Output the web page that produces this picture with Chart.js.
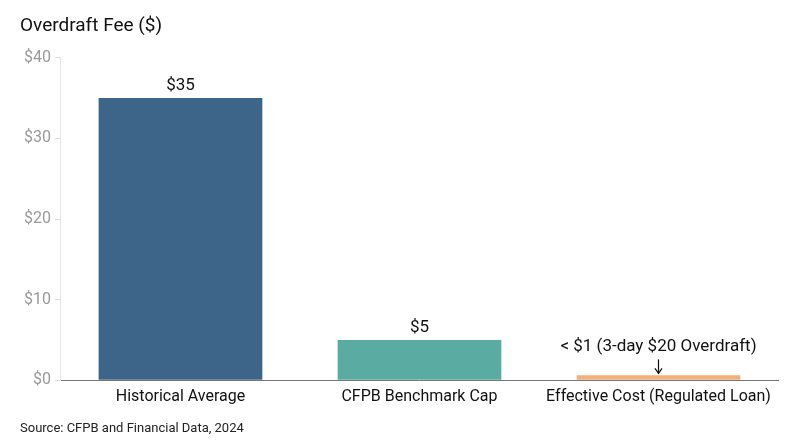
<!DOCTYPE html>
<html>
<head>
<meta charset="utf-8">
<script src="https://cdn.jsdelivr.net/npm/chart.js@4"></script>
<style>
  html, body { margin: 0; padding: 0; background: #fff; }
  #wrap { width: 800px; height: 447px; }
</style>
</head>
<body>
<div id="wrap"><canvas id="chart"></canvas></div>
<script>
// data
const categories = ['Historical Average', 'CFPB Benchmark Cap', 'Effective Cost (Regulated Loan)'];
const fees = [35, 5, 0.6];
const barLabels = ['$35', '$5', '< $1 (3-day $20 Overdraft)'];
const barColors = ['#3d6489', '#5aaba1', '#f2b07c'];
const yTicks = [0, 10, 20, 30, 40];

const FONT = "Roboto, 'Liberation Sans', sans-serif";

// labels above the bars, plus the little arrow on the last one
const barLabelPlugin = {
    id: 'barLabels',
    afterDatasetsDraw(chart) {
        const { ctx } = chart;
        const meta = chart.getDatasetMeta(0);
        ctx.save();
        ctx.fillStyle = '#111';
        ctx.textAlign = 'center';
        ctx.textBaseline = 'bottom';
        ctx.font = '17px ' + FONT;
        meta.data.forEach((bar, i) => {
            if (i === 2) {
                // text sits higher, arrow points down to the bar
                const textY = bar.y - 20;
                ctx.fillText(barLabels[i], bar.x, textY);
                ctx.strokeStyle = '#111';
                ctx.lineWidth = 1.2;
                ctx.beginPath();
                ctx.moveTo(bar.x, textY + 4);
                ctx.lineTo(bar.x, bar.y - 2);
                ctx.stroke();
                ctx.beginPath();
                ctx.moveTo(bar.x - 3.5, bar.y - 7);
                ctx.lineTo(bar.x, bar.y - 2);
                ctx.lineTo(bar.x + 3.5, bar.y - 7);
                ctx.stroke();
            } else {
                ctx.fillText(barLabels[i], bar.x, bar.y - 4);
            }
        });
        ctx.restore();
    }
};

new Chart(document.getElementById('chart'), {
    type: 'bar',
    data: {
        labels: categories,
        datasets: [{
            data: fees,
            backgroundColor: barColors,
            borderWidth: 0,
            categoryPercentage: 1,
            barPercentage: 0.685
        }]
    },
    options: {
        responsive: true,
        maintainAspectRatio: false,
        animation: false,
        layout: { padding: { left: 20, right: 22, top: 0, bottom: 6 } },
        plugins: {
            legend: { display: false },
            tooltip: { enabled: false },
            title: {
                display: true,
                text: 'Overdraft Fee ($)',
                align: 'start',
                color: '#111',
                font: { family: FONT, size: 19, weight: 'normal' },
                padding: { top: 15, bottom: 20 }
            },
            subtitle: {
                display: true,
                position: 'bottom',
                text: 'Source: CFPB and Financial Data, 2024',
                align: 'start',
                color: '#222',
                font: { family: FONT, size: 13 },
                padding: { top: 8, bottom: 4 }
            }
        },
        scales: {
            x: {
                grid: { display: false, drawTicks: false },
                border: { color: '#777', width: 1 },
                ticks: {
                    color: '#111',
                    font: { family: FONT, size: 16 },
                    padding: 7,
                    maxRotation: 0,
                    autoSkip: false
                }
            },
            y: {
                min: 0,
                max: 40,
                afterBuildTicks(axis) {
                    axis.ticks = yTicks.map(v => ({ value: v }));
                },
                grid: {
                    drawOnChartArea: false,
                    drawTicks: true,
                    tickLength: 6,
                    color: '#ddd'
                },
                border: { color: '#e4e4e4', width: 1 },
                ticks: {
                    color: '#999',
                    font: { family: FONT, size: 16 },
                    padding: 4,
                    callback: v => '$' + v
                }
            }
        }
    },
    plugins: [barLabelPlugin]
});
</script>
</body>
</html>
